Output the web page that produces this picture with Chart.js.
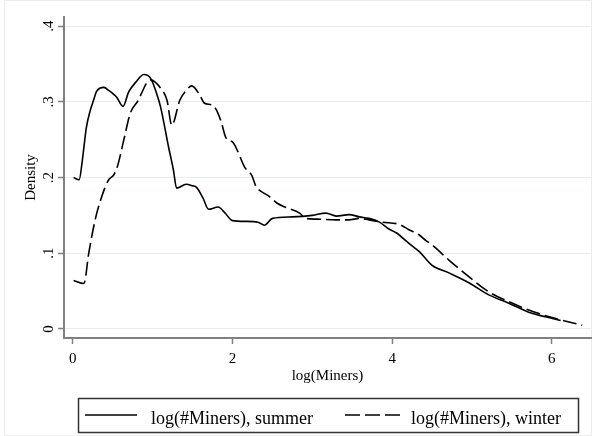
<!DOCTYPE html>
<html>
<head>
<meta charset="utf-8">
<script src="https://cdn.jsdelivr.net/npm/chart.js@4/dist/chart.umd.min.js"></script>
<style>
  body { margin: 0; background: #fff; }
  #wrap { width: 592px; height: 436px; }
</style>
</head>
<body>
<div id="wrap"><canvas id="grafica" width="592" height="436"></canvas></div>
<script>
// Datos (densidad kernel)
const summerX = [0.01, 0.08, 0.12, 0.17, 0.22, 0.26, 0.30, 0.39, 0.45, 0.51, 0.55, 0.63, 0.70, 0.79, 0.89, 0.975, 1.05, 1.10, 1.20, 1.26, 1.30, 1.42, 1.50, 1.55, 1.63, 1.70, 1.82, 1.90, 2.00, 2.17, 2.32, 2.40, 2.50, 2.75, 3.00, 3.17, 3.30, 3.46, 3.59, 3.71, 3.84, 3.96, 4.05, 4.21, 4.34, 4.50, 4.71, 4.96, 5.21, 5.46, 5.71, 5.92, 6.11];
const summerY = [0.200, 0.197, 0.223, 0.266, 0.289, 0.302, 0.314, 0.319, 0.315, 0.310, 0.306, 0.294, 0.313, 0.326, 0.336, 0.331, 0.311, 0.293, 0.240, 0.210, 0.186, 0.191, 0.189, 0.187, 0.173, 0.158, 0.161, 0.154, 0.143, 0.142, 0.141, 0.137, 0.146, 0.148, 0.150, 0.153, 0.149, 0.151, 0.148, 0.146, 0.141, 0.132, 0.127, 0.113, 0.102, 0.084, 0.074, 0.061, 0.045, 0.034, 0.022, 0.016, 0.011];

const winterX = [0.01, 0.14, 0.20, 0.28, 0.36, 0.45, 0.51, 0.56, 0.64, 0.72, 0.82, 0.86, 0.92, 0.975, 1.10, 1.18, 1.24, 1.34, 1.42, 1.49, 1.59, 1.65, 1.74, 1.80, 1.86, 1.92, 2.00, 2.06, 2.15, 2.24, 2.30, 2.34, 2.46, 2.56, 2.68, 2.84, 2.92, 3.05, 3.30, 3.46, 3.59, 3.71, 3.88, 4.09, 4.21, 4.34, 4.42, 4.50, 4.71, 4.96, 5.21, 5.46, 5.71, 6.00, 6.38];
const winterY = [0.064, 0.060, 0.100, 0.144, 0.174, 0.197, 0.203, 0.215, 0.250, 0.285, 0.302, 0.311, 0.324, 0.329, 0.318, 0.302, 0.269, 0.302, 0.315, 0.321, 0.309, 0.298, 0.296, 0.289, 0.273, 0.252, 0.247, 0.236, 0.214, 0.203, 0.187, 0.183, 0.175, 0.166, 0.160, 0.153, 0.146, 0.145, 0.144, 0.144, 0.146, 0.144, 0.141, 0.138, 0.131, 0.124, 0.117, 0.111, 0.091, 0.069, 0.049, 0.036, 0.025, 0.015, 0.005];

const seriesLabels = ['log(#Miners), summer', 'log(#Miners), winter'];
const xTickLabels = ['0', '2', '4', '6'];
const yTickLabels = ['0', '.1', '.2', '.3', '.4'];

const serif = "'Liberation Serif', 'Times New Roman', serif";
const dashCurve = [14, 5];

function puntos(xs, ys) {
    return xs.map((x, i) => ({ x: x, y: ys[i] }));
}

// Etiquetas Y giradas, leyenda con recuadro y marco exterior
const estiloStata = {
    id: 'estiloStata',
    beforeDraw(chart) {
        const ctx = chart.ctx;
        ctx.save();
        ctx.fillStyle = '#ffffff';
        ctx.fillRect(0, 0, chart.width, chart.height);
        ctx.strokeStyle = '#ececec';
        ctx.lineWidth = 1;
        ctx.strokeRect(4.5, 0.5, chart.width - 5, chart.height - 1);
        ctx.restore();
    },
    afterDraw(chart) {
        const ctx = chart.ctx;
        const y = chart.scales.y;
        ctx.save();
        ctx.fillStyle = '#000';
        ctx.font = '15px ' + serif;
        ctx.textAlign = 'center';
        ctx.textBaseline = 'middle';
        y.ticks.forEach(t => {
            const py = y.getPixelForValue(t.value);
            ctx.save();
            ctx.translate(49, py);
            ctx.rotate(-Math.PI / 2);
            ctx.fillText(t.label, 0, 0);
            ctx.restore();
        });

        // Leyenda
        ctx.strokeStyle = '#333';
        ctx.lineWidth = 1.5;
        ctx.strokeRect(78.5, 398.5, 500, 34);
        const ds = chart.data.datasets;
        const items = [
            { x0: 85, x1: 137, tx: 151, dash: [] },
            { x0: 345, x1: 400, tx: 411, dash: [15, 5] }
        ];
        ctx.lineWidth = 1.6;
        ctx.strokeStyle = '#000';
        ctx.font = '18px ' + serif;
        ctx.textAlign = 'left';
        ctx.textBaseline = 'alphabetic';
        items.forEach((it, i) => {
            ctx.setLineDash(it.dash);
            ctx.beginPath();
            ctx.moveTo(it.x0, 415);
            ctx.lineTo(it.x1, 415);
            ctx.stroke();
            ctx.fillText(ds[i].label, it.tx, 424);
        });
        ctx.restore();
    }
};

new Chart(document.getElementById('grafica').getContext('2d'), {
    type: 'line',
    data: {
        datasets: [{
            label: seriesLabels[0],
            data: puntos(summerX, summerY),
            borderColor: '#000',
            borderWidth: 1.6,
            pointRadius: 0,
            cubicInterpolationMode: 'monotone',
            fill: false
        }, {
            label: seriesLabels[1],
            data: puntos(winterX, winterY),
            borderColor: '#000',
            borderWidth: 1.6,
            borderDash: dashCurve,
            pointRadius: 0,
            cubicInterpolationMode: 'monotone',
            fill: false
        }]
    },
    options: {
        responsive: false,
        animation: false,
        layout: { padding: { left: 0, top: 17, right: 1, bottom: 0 } },
        plugins: {
            legend: { display: false },
            tooltip: { enabled: false }
        },
        scales: {
            x: {
                type: 'linear',
                min: -0.11,
                max: 6.49,
                afterFit: s => { s.height = 98; },
                ticks: {
                    stepSize: 2,
                    includeBounds: false,
                    maxRotation: 0,
                    padding: 6,
                    color: '#000',
                    font: { family: serif, size: 15 },
                    callback: (v, i) => xTickLabels[i]
                },
                grid: { drawOnChartArea: false, drawTicks: true, tickLength: 6, tickColor: '#808080', tickWidth: 1.5 },
                border: { color: '#808080', width: 2 },
                title: {
                    display: true,
                    text: 'log(Miners)',
                    color: '#000',
                    font: { family: serif, size: 15 },
                    padding: { top: 0, bottom: 51 }
                }
            },
            y: {
                min: -0.012,
                max: 0.412,
                afterFit: s => { s.width = 64; },
                ticks: {
                    stepSize: 0.1,
                    includeBounds: false,
                    display: false,
                    callback: (v, i) => yTickLabels[i]
                },
                grid: { color: '#e6eef0', lineWidth: 1, drawTicks: true, tickLength: 6, tickColor: '#808080', tickWidth: 1.5 },
                border: { color: '#808080', width: 2 },
                title: {
                    display: true,
                    text: 'Density',
                    color: '#000',
                    font: { family: serif, size: 15 },
                    padding: { top: 22, bottom: 0 }
                }
            }
        }
    },
    plugins: [estiloStata]
});
</script>
</body>
</html>
